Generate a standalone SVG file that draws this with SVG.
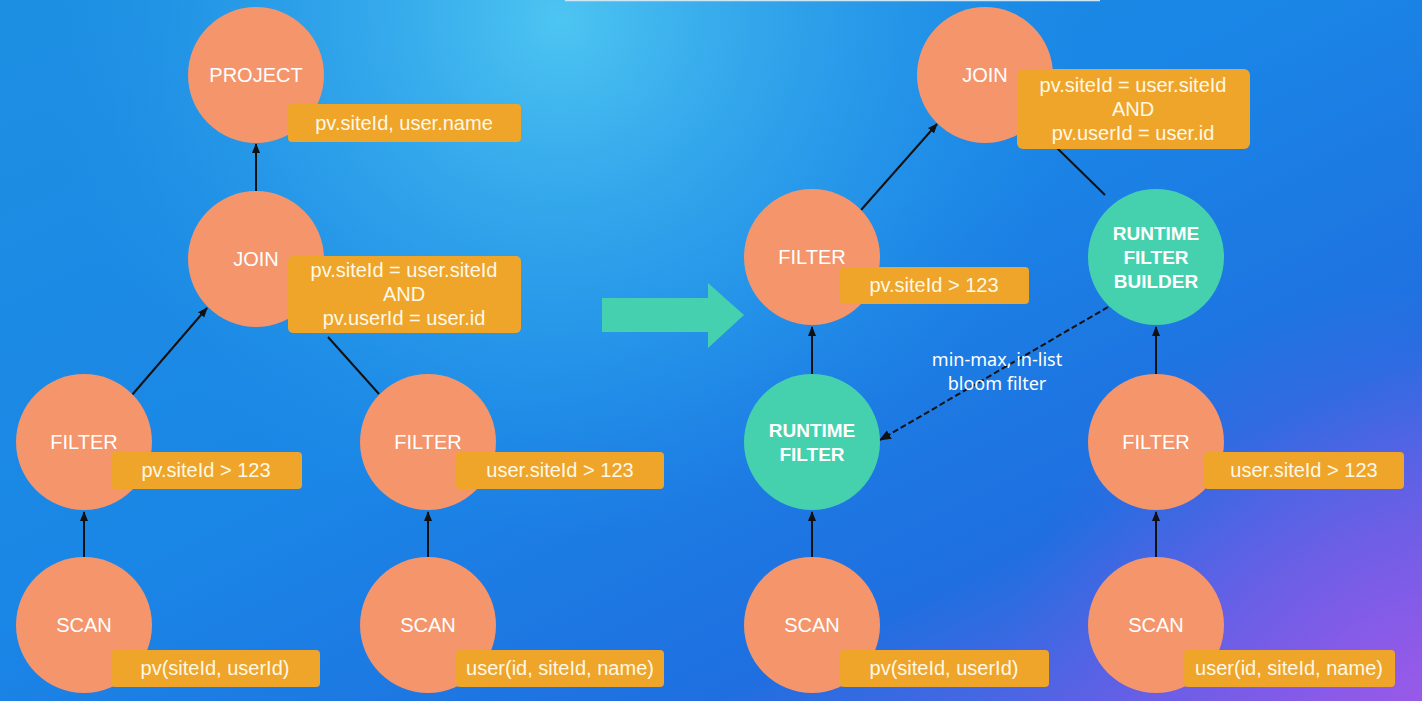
<svg xmlns="http://www.w3.org/2000/svg" width="1422" height="701" viewBox="0 0 1422 701">
<defs>
<linearGradient id="bg" x1="0" y1="0" x2="1" y2="1">
<stop offset="0" stop-color="#1d8fe2"/>
<stop offset="0.45" stop-color="#1a86e6"/>
<stop offset="0.75" stop-color="#1f6fe0"/>
<stop offset="1" stop-color="#8a58e8"/>
</linearGradient>
<radialGradient id="glow" cx="560" cy="20" r="520" gradientUnits="userSpaceOnUse">
<stop offset="0" stop-color="#50c8f2" stop-opacity="0.95"/>
<stop offset="0.6" stop-color="#3ab0ee" stop-opacity="0.4"/>
<stop offset="1" stop-color="#2a9aea" stop-opacity="0"/>
</radialGradient>
<radialGradient id="purp" cx="1422" cy="701" r="420" gradientUnits="userSpaceOnUse">
<stop offset="0" stop-color="#9a5ae8" stop-opacity="0.9"/>
<stop offset="1" stop-color="#6a5ae8" stop-opacity="0"/>
</radialGradient>
<marker id="ah" viewBox="0 0 10 10" refX="9" refY="5" markerWidth="10" markerHeight="10" orient="auto" markerUnits="userSpaceOnUse">
<path d="M0,1 L10,5 L0,9 z" fill="#111"/>
</marker>
<marker id="ahd" viewBox="0 0 10 10" refX="9" refY="5" markerWidth="12" markerHeight="12" orient="auto" markerUnits="userSpaceOnUse">
<path d="M0,1 L10,5 L0,9 z" fill="#111"/>
</marker>
</defs>
<style>
.op{fill:#f4956c}
.rf{fill:#45d1ae}
.box{fill:#eea52a}
.t{font-family:"Liberation Sans",Arial,sans-serif;font-size:20px;fill:#fff;text-anchor:middle}
.b{font-weight:bold;font-size:19px}
.bt{font-family:"Liberation Sans",Arial,sans-serif;font-size:20px;fill:#fff8e6;text-anchor:middle}
.ln{stroke:#111;stroke-width:2;fill:none}
.note{font-family:"Noto Sans","Open Sans",sans-serif;font-size:18px;fill:#fff;text-anchor:middle}
</style>
<rect width="1422" height="701" fill="url(#bg)"/>
<rect width="1422" height="701" fill="url(#glow)"/>
<rect width="1422" height="701" fill="url(#purp)"/>
<line x1="565" y1="0.5" x2="1100" y2="0.5" stroke="#cfe6f5" stroke-width="1.5"/>

<g id="connectors">
<line class="ln" x1="256" y1="191" x2="256" y2="144" marker-end="url(#ah)"/>
<line class="ln" x1="132" y1="395" x2="207" y2="308" marker-end="url(#ah)"/>
<line class="ln" x1="379" y1="394" x2="328" y2="337"/>
<line class="ln" x1="84" y1="557" x2="84" y2="512" marker-end="url(#ah)"/>
<line class="ln" x1="428" y1="557" x2="428" y2="512" marker-end="url(#ah)"/>
<line class="ln" x1="812" y1="557" x2="812" y2="512" marker-end="url(#ah)"/>
<line class="ln" x1="812" y1="374" x2="812" y2="327" marker-end="url(#ah)"/>
<line class="ln" x1="861" y1="210" x2="937" y2="124" marker-end="url(#ah)"/>
<line class="ln" x1="1105" y1="195" x2="1055" y2="146"/>
<line class="ln" x1="1156" y1="557" x2="1156" y2="512" marker-end="url(#ah)"/>
<line class="ln" x1="1156" y1="374" x2="1156" y2="327" marker-end="url(#ah)"/>
<line class="ln" x1="1108" y1="307" x2="880" y2="440" stroke-dasharray="6,3" marker-end="url(#ahd)"/>
</g>

<g id="big-arrow">
<polygon points="602,298 708,298 708,283 744,315 708,348 708,332 602,332" fill="#45d0b0"/>
</g>

<g id="l-project">
<circle class="op" cx="256" cy="75" r="68"/>
<text class="t" x="256" y="82">PROJECT</text>
<rect class="box" x="288" y="104" width="233" height="38" rx="4"/>
<text class="bt" x="404" y="130">pv.siteId, user.name</text>
</g>
<g id="l-join">
<circle class="op" cx="256" cy="259" r="68"/>
<text class="t" x="256" y="266">JOIN</text>
<rect class="box" x="288" y="256" width="233" height="77" rx="5"/>
<text class="bt" x="404" y="277">pv.siteId = user.siteId</text>
<text class="bt" x="404" y="301">AND</text>
<text class="bt" x="404" y="325">pv.userId = user.id</text>
</g>
<g id="l-filter1">
<circle class="op" cx="84" cy="442" r="68"/>
<text class="t" x="84" y="449">FILTER</text>
<rect class="box" x="111" y="452" width="191" height="37" rx="4"/>
<text class="bt" x="206" y="477">pv.siteId &gt; 123</text>
</g>
<g id="l-filter2">
<circle class="op" cx="428" cy="442" r="68"/>
<text class="t" x="428" y="449">FILTER</text>
<rect class="box" x="456" y="452" width="208" height="37" rx="4"/>
<text class="bt" x="560" y="477">user.siteId &gt; 123</text>
</g>
<g id="l-scan1">
<circle class="op" cx="84" cy="625" r="68"/>
<text class="t" x="84" y="632">SCAN</text>
<rect class="box" x="111" y="650" width="209" height="37" rx="4"/>
<text class="bt" x="215" y="675">pv(siteId, userId)</text>
</g>
<g id="l-scan2">
<circle class="op" cx="428" cy="625" r="68"/>
<text class="t" x="428" y="632">SCAN</text>
<rect class="box" x="456" y="650" width="208" height="37" rx="4"/>
<text class="bt" x="560" y="675">user(id, siteId, name)</text>
</g>

<g id="r-join">
<circle class="op" cx="985" cy="75" r="68"/>
<text class="t" x="985" y="82">JOIN</text>
<rect class="box" x="1017" y="69" width="233" height="80" rx="6"/>
<text class="bt" x="1133" y="92">pv.siteId = user.siteId</text>
<text class="bt" x="1133" y="116">AND</text>
<text class="bt" x="1133" y="140">pv.userId = user.id</text>
</g>
<g id="r-filter1">
<circle class="op" cx="812" cy="257" r="68"/>
<text class="t" x="812" y="264">FILTER</text>
<rect class="box" x="840" y="267" width="189" height="37" rx="4"/>
<text class="bt" x="934" y="292">pv.siteId &gt; 123</text>
</g>
<g id="r-rfbuilder">
<circle class="rf" cx="1156" cy="257" r="68"/>
<text class="t b" x="1156" y="240">RUNTIME</text>
<text class="t b" x="1156" y="264">FILTER</text>
<text class="t b" x="1156" y="288">BUILDER</text>
</g>
<g id="r-rf">
<circle class="rf" cx="812" cy="442" r="68"/>
<text class="t b" x="812" y="437">RUNTIME</text>
<text class="t b" x="812" y="461">FILTER</text>
</g>
<g id="r-filter2">
<circle class="op" cx="1156" cy="442" r="68"/>
<text class="t" x="1156" y="449">FILTER</text>
<rect class="box" x="1204" y="452" width="200" height="37" rx="4"/>
<text class="bt" x="1304" y="477">user.siteId &gt; 123</text>
</g>
<g id="r-scan1">
<circle class="op" cx="812" cy="625" r="68"/>
<text class="t" x="812" y="632">SCAN</text>
<rect class="box" x="840" y="650" width="209" height="37" rx="4"/>
<text class="bt" x="944" y="675">pv(siteId, userId)</text>
</g>
<g id="r-scan2">
<circle class="op" cx="1156" cy="625" r="68"/>
<text class="t" x="1156" y="632">SCAN</text>
<rect class="box" x="1184" y="650" width="211" height="37" rx="4"/>
<text class="bt" x="1289" y="675">user(id, siteId, name)</text>
</g>

<g id="edge-label">
<text class="note" x="997" y="366">min-max, in-list</text>
<text class="note" x="997" y="390">bloom filter</text>
</g>
</svg>
